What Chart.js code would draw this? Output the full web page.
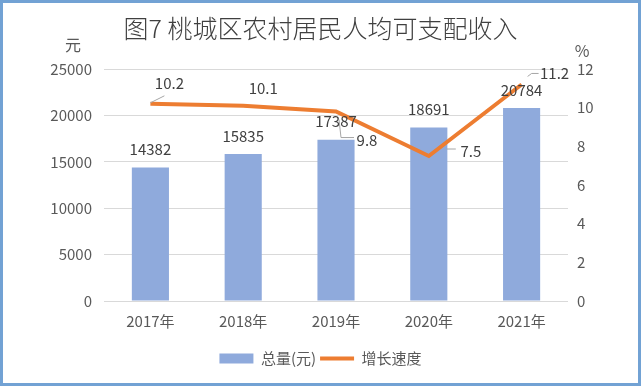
<!DOCTYPE html>
<html>
<head>
<meta charset="utf-8">
<script src="https://cdn.jsdelivr.net/npm/chart.js@4.4.0/dist/chart.umd.min.js"></script>
<style>
  html, body { margin: 0; padding: 0; background: #fff; }
  #wrap { width: 641px; height: 386px; }
</style>
</head>
<body>
<div id="wrap"><canvas id="chart" width="641" height="386"></canvas></div>
<script>
// 数据
const years = ['2017年', '2018年', '2019年', '2020年', '2021年'];
const income = [14382, 15835, 17387, 18691, 20784];   // 总量(元)
const growth = [10.2, 10.1, 9.8, 7.5, 11.2];          // 增长速度 %
const leftTicks = [0, 5000, 10000, 15000, 20000, 25000];
const rightTicks = [0, 2, 4, 6, 8, 10, 12];

const FONT = '"Noto Sans CJK SC", "Noto Sans", sans-serif';
const BAR_COLOR = '#8faadc';
const LINE_COLOR = '#ed7d31';

// 折线标签位置 (相对数据点) 和引导线
const growthLabelPos = [
    { dx: 19, dy: -21, leader: [[0, -1], [14, -8]] },
    { dx: 20, dy: -17, leader: null },
    { dx: 31, dy: 29, leader: [[3, 8], [5, 26], [18, 26]] },
    { dx: 42, dy: -5, leader: [[18, -7], [27, -7]] },
    { dx: 33, dy: -11, leader: [[6, -8], [10, -11], [17, -11]] }
];

// 边框、单位和数据标签
const extras = {
    id: 'extras',
    afterDatasetsDraw(chart) {
        const c = chart.ctx;
        const area = chart.chartArea;
        c.save();
        c.font = '15px ' + FONT;
        c.fillStyle = '#404040';
        c.textAlign = 'center';
        c.textBaseline = 'middle';

        // 柱子数值
        chart.getDatasetMeta(0).data.forEach((bar, i) => {
            c.fillText(String(income[i]), bar.x, bar.y - 18);
        });

        // 折线数值
        chart.getDatasetMeta(1).data.forEach((pt, i) => {
            const pos = growthLabelPos[i];
            if (pos.leader) {
                c.strokeStyle = '#a6a6a6';
                c.lineWidth = 1;
                c.beginPath();
                pos.leader.forEach((p, k) => {
                    if (k === 0) c.moveTo(pt.x + p[0], pt.y + p[1]);
                    else c.lineTo(pt.x + p[0], pt.y + p[1]);
                });
                c.stroke();
            }
            c.fillStyle = '#404040';
            c.fillText(growth[i].toFixed(1), pt.x + pos.dx, pt.y + pos.dy);
        });

        // 单位
        c.fillStyle = '#595959';
        c.font = '16px ' + FONT;
        c.fillText('元', area.left - 31, area.top - 24);
        c.fillText('%', area.right + 14, area.top - 18);

        // 外框
        c.strokeStyle = '#72a2d4';
        c.lineWidth = 3;
        c.strokeRect(1.5, 1.5, chart.width - 3, chart.height - 3);
        c.restore();
    }
};

new Chart(document.getElementById('chart'), {
    data: {
        labels: years,
        datasets: [
            {
                type: 'bar',
                label: '总量(元)',
                data: income,
                backgroundColor: BAR_COLOR,
                yAxisID: 'y',
                barPercentage: 0.4,
                categoryPercentage: 1,
                order: 2
            },
            {
                type: 'line',
                label: '增长速度',
                data: growth,
                borderColor: LINE_COLOR,
                backgroundColor: LINE_COLOR,
                borderWidth: 4,
                pointRadius: 0,
                tension: 0,
                yAxisID: 'y1',
                order: 1
            }
        ]
    },
    options: {
        responsive: false,
        animation: false,
        devicePixelRatio: 1,
        layout: { padding: { left: 0, right: 0, top: 0, bottom: 10 } },
        plugins: {
            tooltip: { enabled: false },
            title: {
                display: true,
                text: '图7 桃城区农村居民人均可支配收入',
                color: '#404040',
                font: { family: FONT, size: 25, weight: '300' },
                padding: { top: 13, bottom: 26 }
            },
            legend: {
                position: 'bottom',
                labels: {
                    color: '#595959',
                    font: { family: FONT, size: 15 },
                    usePointStyle: true,
                    pointStyleWidth: 34,
                    boxHeight: 10,
                    padding: 4,
                    sort: (a, b) => a.datasetIndex - b.datasetIndex,
                    generateLabels(chart) {
                        const items = Chart.defaults.plugins.legend.labels.generateLabels(chart);
                        return items.map(it => {
                            if (it.datasetIndex === 0) {
                                it.pointStyle = 'rect';
                                it.lineWidth = 0;
                                it.fillStyle = BAR_COLOR;
                            } else {
                                it.pointStyle = 'line';
                                it.lineWidth = 4;
                                it.strokeStyle = LINE_COLOR;
                            }
                            return it;
                        });
                    }
                }
            }
        },
        scales: {
            x: {
                grid: { display: false, drawTicks: false },
                border: { display: false },
                ticks: { color: '#595959', font: { family: FONT, size: 15 }, padding: 11 },
                afterFit(scale) { scale.height = 46; }
            },
            y: {
                position: 'left',
                min: 0,
                max: 25000,
                afterBuildTicks(scale) { scale.ticks = leftTicks.map(v => ({ value: v })); },
                grid: { color: '#d9d9d9', drawTicks: false },
                border: { display: false },
                ticks: {
                    color: '#595959',
                    font: { family: FONT, size: 15 },
                    padding: 12,
                    callback: v => String(v)
                },
                afterFit(scale) { scale.width = 104; }
            },
            y1: {
                position: 'right',
                min: 0,
                max: 12,
                afterBuildTicks(scale) { scale.ticks = rightTicks.map(v => ({ value: v })); },
                grid: { display: false, drawTicks: false },
                border: { display: false },
                ticks: { color: '#595959', font: { family: FONT, size: 15 }, padding: 9 },
                afterFit(scale) { scale.width = 73; }
            }
        }
    },
    plugins: [extras]
});
</script>
</body>
</html>
